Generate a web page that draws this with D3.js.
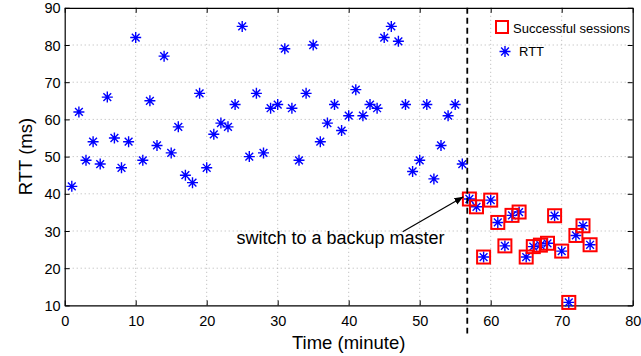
<!DOCTYPE html>
<html>
<head>
<meta charset="utf-8">
<script src="https://cdn.jsdelivr.net/npm/d3@7"></script>
<style>
  body { margin: 0; background: #fff; }
  svg { display: block; font-family: "Liberation Sans", Arial, Helvetica, sans-serif; }
</style>
</head>
<body>
<svg id="chart" width="641" height="356"></svg>
<script>
// RTT measured before the switch (minutes / ms)
var rttTimes = [1,2,3,4,5,6,7,8,9,10,11,12,13,14,15,16,17,18,19,20,21,22,23,24,25,26,27,28,
  29,30,31,32,33,34,35,36,37,38,39,40,41,42,43,44,45,46,47,48,49,50,51,52,53,54,55,56];
var rttValues = [42,62,49,54,48,66,55,47,54,82,49,65,53,77,51,58,45,43,67,47,56,59,58,64,85,50,67,51,
  63,64,79,63,49,67,80,54,59,64,57,61,68,61,64,63,82,85,81,64,46,49,64,44,53,61,64,48];

// sessions after switching to the backup master
var sessTimes = [57,58,59,60,61,62,63,64,65,66,67,68,69,70,71,72,73,74];
var sessValues = [38.6,36.5,23,38.3,32.3,26,34.2,35.1,23,25.8,26.2,26.7,34.1,24.6,10.8,28.8,31.4,26.3];

var xTicks = [0,10,20,30,40,50,60,70,80];
var yTicks = [10,20,30,40,50,60,70,80,90];
var switchTime = 56.7;

// annotation: text start, arrow start, arrow tip (data units)
var noteText = "switch to a backup master";
var notePos = [24.2, 26.4];
var arrowFrom = [47.6, 29.8];
var arrowTo = [56.15, 39.2];

var margin = { top: 7.8, right: 8.3, bottom: 50.6, left: 64.7 };
var svg = d3.select('#chart');
var width = 641 - margin.left - margin.right;
var height = 356 - margin.top - margin.bottom;

var x = d3.scaleLinear().domain([0, 80]).range([0, width]);
var y = d3.scaleLinear().domain([10, 90]).range([height, 0]);

var defs = svg.append('defs');
defs.append('marker')
    .attr('id', 'arrowhead')
    .attr('viewBox', '0 0 10 10')
    .attr('refX', 10).attr('refY', 5)
    .attr('markerWidth', 9).attr('markerHeight', 9)
    .attr('markerUnits', 'userSpaceOnUse')
    .attr('orient', 'auto')
  .append('path')
    .attr('d', 'M0,1 L10,5 L0,9 Z')
    .attr('fill', 'black');

var g = svg.append('g').attr('transform', 'translate(' + margin.left + ',' + margin.top + ')');

// dotted grid
g.append('g').selectAll('line')
  .data(xTicks.slice(1, -1))
  .enter().append('line')
    .attr('x1', d => x(d)).attr('x2', d => x(d))
    .attr('y1', 0).attr('y2', height)
    .attr('stroke', '#b4b4b4').attr('stroke-width', 1)
    .attr('stroke-dasharray', '1,3');
g.append('g').selectAll('line')
  .data(yTicks.slice(1, -1))
  .enter().append('line')
    .attr('y1', d => y(d)).attr('y2', d => y(d))
    .attr('x1', 0).attr('x2', width)
    .attr('stroke', '#b4b4b4').attr('stroke-width', 1)
    .attr('stroke-dasharray', '1,3');

// axes with inward ticks, matlab style box
var xAxis = g.append('g')
    .attr('transform', 'translate(0,' + height + ')')
    .call(d3.axisBottom(x).tickValues(xTicks).tickSizeInner(-5).tickSizeOuter(0).tickPadding(10));
var yAxis = g.append('g')
    .call(d3.axisLeft(y).tickValues(yTicks).tickSizeInner(-5).tickSizeOuter(0).tickPadding(4));
g.append('g')
    .call(d3.axisTop(x).tickValues(xTicks).tickSizeInner(-5).tickSizeOuter(0).tickFormat(''));
g.append('g')
    .attr('transform', 'translate(' + width + ',0)')
    .call(d3.axisRight(y).tickValues(yTicks).tickSizeInner(-5).tickSizeOuter(0).tickFormat(''));

g.selectAll('.domain').attr('stroke', 'black').attr('stroke-width', 1.2);
g.selectAll('.tick line').attr('stroke', 'black');
g.selectAll('.tick text')
    .attr('font-family', '"Liberation Sans", Arial, sans-serif')
    .attr('font-size', 14.5)
    .attr('fill', 'black');
yAxis.selectAll('.tick text').attr('dy', '0.35em');

// axis titles
svg.append('text')
    .attr('x', margin.left + width / 2)
    .attr('y', 349)
    .attr('text-anchor', 'middle')
    .attr('font-size', 18.5)
    .text('Time (minute)');
svg.append('text')
    .attr('transform', 'translate(32,' + (margin.top + height / 2) + ') rotate(-90)')
    .attr('text-anchor', 'middle')
    .attr('font-size', 18.5)
    .text('RTT (ms)');

// star marker path (4 strokes)
function starPath(r) {
  var d = r * Math.SQRT1_2;
  return 'M0,' + (-r) + 'L0,' + r +
         'M' + (-r) + ',0L' + r + ',0' +
         'M' + (-d) + ',' + (-d) + 'L' + d + ',' + d +
         'M' + (-d) + ',' + d + 'L' + d + ',' + (-d);
}

var allTimes = rttTimes.concat(sessTimes);
var allValues = rttValues.concat(sessValues);

g.append('g').selectAll('path')
  .data(allTimes)
  .enter().append('path')
    .attr('transform', (d, i) => 'translate(' + x(d) + ',' + y(allValues[i]) + ')')
    .attr('d', starPath(5.5))
    .attr('stroke', '#0000ff')
    .attr('stroke-width', 1.4)
    .attr('fill', 'none');

g.append('g').selectAll('rect')
  .data(sessTimes)
  .enter().append('rect')
    .attr('x', d => x(d) - 6.5)
    .attr('y', (d, i) => y(sessValues[i]) - 6.5)
    .attr('width', 13).attr('height', 13)
    .attr('fill', 'none')
    .attr('stroke', '#ff0000')
    .attr('stroke-width', 2);

// switch line
g.append('line')
    .attr('x1', x(switchTime)).attr('x2', x(switchTime))
    .attr('y1', 0).attr('y2', height + 28)
    .attr('stroke', 'black')
    .attr('stroke-width', 1.8)
    .attr('stroke-dasharray', '6,4');

// annotation
g.append('line')
    .attr('x1', x(arrowFrom[0])).attr('y1', y(arrowFrom[1]))
    .attr('x2', x(arrowTo[0])).attr('y2', y(arrowTo[1]))
    .attr('stroke', 'black').attr('stroke-width', 1.2)
    .attr('marker-end', 'url(#arrowhead)');
g.append('text')
    .attr('x', x(notePos[0])).attr('y', y(notePos[1]))
    .attr('font-size', 18)
    .text(noteText);

// legend
var legend = svg.append('g').attr('transform', 'translate(495,20)');
legend.append('rect')
    .attr('x', 1).attr('y', 1).attr('width', 12).attr('height', 12)
    .attr('fill', 'none').attr('stroke', '#ff0000').attr('stroke-width', 2);
legend.append('text')
    .attr('x', 18).attr('y', 12.5)
    .attr('font-size', 13)
    .text('Successful sessions');
legend.append('path')
    .attr('transform', 'translate(10,31.5)')
    .attr('d', starPath(5.5))
    .attr('stroke', '#0000ff').attr('stroke-width', 1.4).attr('fill', 'none');
legend.append('text')
    .attr('x', 24).attr('y', 36)
    .attr('font-size', 13)
    .text('RTT');
</script>
</body>
</html>
